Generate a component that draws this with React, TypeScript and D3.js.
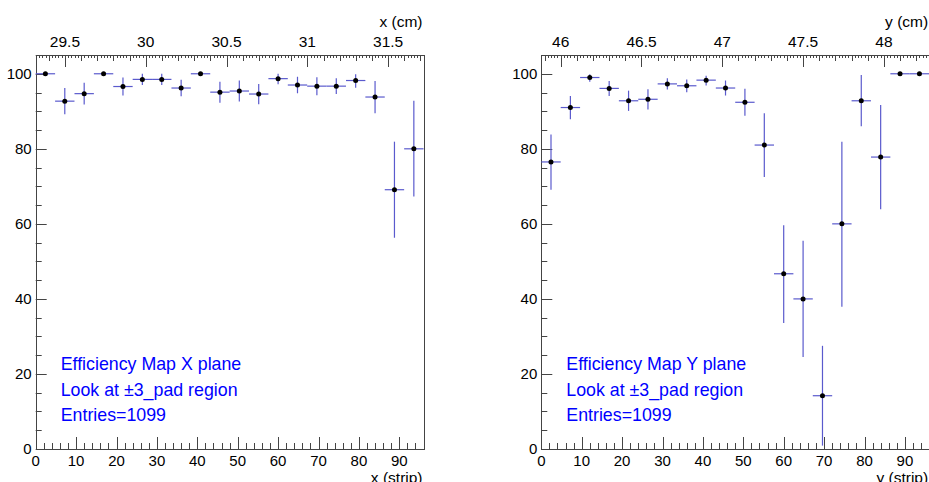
import React from "react";
import * as d3 from "d3";

// bins in strip units (20 bins of 4.8 strips, 0..96)
const stripBinCenters = [2.4, 7.2, 12.0, 16.8, 21.6, 26.4, 31.2, 36.0, 40.8, 45.6, 50.4, 55.2, 60.0, 64.8, 69.6, 74.4, 79.2, 84.0, 88.8, 93.6];
const binHalfWidth = 2.4;

const xPlaneEff = [100, 92.7, 94.7, 100, 96.6, 98.5, 98.5, 96.2, 100, 95.1, 95.4, 94.6, 98.7, 97.0, 96.7, 96.7, 98.2, 93.8, 69.1, 80.0];
const xPlaneErrLow = [0, 3.5, 2.9, 0, 2.4, 1.5, 1.5, 2.2, 0, 2.8, 2.8, 2.7, 1.5, 2.2, 2.4, 2.1, 1.9, 4.3, 12.8, 12.7];
const xPlaneErrHigh = [0, 3.5, 2.9, 0, 2.4, 1.5, 1.5, 2.2, 0, 2.8, 2.8, 2.7, 1.3, 2.2, 2.4, 2.1, 1.7, 4.3, 12.8, 12.8];

const yPlaneEff = [76.5, 91.0, 99.0, 96.1, 92.8, 93.2, 97.3, 96.8, 98.3, 96.2, 92.4, 81.0, 46.7, 40.0, 14.2, 60.0, 92.8, 77.8, 100, 100];
const yPlaneErrLow = [7.4, 3.1, 1.1, 2.0, 2.7, 2.7, 1.5, 1.7, 1.4, 2.0, 3.6, 8.5, 13.1, 15.5, 13.3, 22.1, 6.8, 13.9, 0, 0];
const yPlaneErrHigh = [7.3, 3.1, 0.9, 2.0, 2.7, 2.7, 1.5, 1.7, 1.2, 2.0, 3.6, 8.5, 12.9, 15.5, 13.3, 21.9, 6.9, 13.9, 0, 0];

const xCmDomain = [29.319, 31.719];
const yCmDomain = [45.88, 48.28];
const xCmTicks = ["29.5", "30", "30.5", "31", "31.5"];
const yCmTicks = ["46", "46.5", "47", "47.5", "48"];
const stripTicks = [0, 10, 20, 30, 40, 50, 60, 70, 80, 90];
const effTicks = [0, 20, 40, 60, 80, 100];

const FONT = "'Liberation Sans', Arial, Helvetica, sans-serif";
const AXIS = "#444";
const BAR = "#5a5acd";

type PanelProps = {
  left: number;
  eff: number[];
  errLo: number[];
  errHi: number[];
  cmDomain: number[];
  cmTicks: string[];
  axisName: string;
  plane: string;
};

function Panel({ left, eff, errLo, errHi, cmDomain, cmTicks, axisName, plane }: PanelProps) {
  const top = 55;
  const bottom = 449;
  const right = left + 96 * 4.04;

  const x = d3.scaleLinear().domain([0, 96]).range([left, right]);
  const xcm = d3.scaleLinear().domain(cmDomain).range([left, right]);
  const y = d3.scaleLinear().domain([0, 105]).range([bottom, top]);

  const px = (v: number) => Math.round(v) + 0.5;

  const minorStrip = d3.range(0, 96.01, 2).filter((v) => v % 10 !== 0);
  const minorEff = d3.range(0, 105.01, 5).filter((v) => v % 20 !== 0);
  const cmSmall = d3.range(Math.ceil(cmDomain[0] * 50), Math.floor(cmDomain[1] * 50) + 1).map((v) => v / 50);

  return (
    <g fontFamily={FONT}>
      {/* frame */}
      <rect x={px(left)} y={px(top)} width={Math.round(right) - Math.round(left)} height={Math.round(bottom) - Math.round(top)} fill="none" stroke={AXIS} strokeWidth={1} />

      {/* bottom strip axis */}
      {stripTicks.map((t) => (
        <g key={"sb" + t}>
          <line x1={px(x(t))} x2={px(x(t))} y1={bottom} y2={bottom - 12} stroke={AXIS} />
          <text x={x(t)} y={466} textAnchor="middle" fontSize={15} fill="#000">{t}</text>
        </g>
      ))}
      {minorStrip.map((t) => (
        <line key={"sm" + t} x1={px(x(t))} x2={px(x(t))} y1={bottom} y2={bottom - 6} stroke={AXIS} />
      ))}
      <text x={right - 1} y={483} textAnchor="end" fontSize={15.5} fill="#000">{axisName} (strip)</text>

      {/* top cm axis */}
      {cmSmall.map((v) => {
        const k = Math.round(v * 50);
        const len = k % 25 === 0 ? 12 : k % 5 === 0 ? 6 : 3;
        return <line key={"cm" + k} x1={px(xcm(v))} x2={px(xcm(v))} y1={top} y2={top + len} stroke={AXIS} />;
      })}
      {cmTicks.map((t) => (
        <text key={"cl" + t} x={xcm(+t)} y={46.5} textAnchor="middle" fontSize={15.5} fill="#000">{t}</text>
      ))}
      <text x={right - 1} y={26.5} textAnchor="end" fontSize={15.5} fill="#000">{axisName} (cm)</text>

      {/* left efficiency axis */}
      {effTicks.map((t) => (
        <g key={"ey" + t}>
          <line x1={left} x2={left + 11} y1={px(y(t))} y2={px(y(t))} stroke={AXIS} />
          <text x={left - 4} y={y(t)} dy="0.36em" textAnchor="end" fontSize={15} fill="#000">{t}</text>
        </g>
      ))}
      {minorEff.map((t) => (
        <line key={"em" + t} x1={left} x2={left + 6} y1={px(y(t))} y2={px(y(t))} stroke={AXIS} />
      ))}

      {/* error bars and points */}
      {stripBinCenters.map((c, i) => (
        <g key={"p" + i}>
          <line x1={x(c - binHalfWidth)} x2={x(c + binHalfWidth)} y1={y(eff[i])} y2={y(eff[i])} stroke={BAR} strokeWidth={1.2} />
          {(errLo[i] > 0 || errHi[i] > 0) && (
            <line x1={x(c)} x2={x(c)} y1={y(eff[i] + errHi[i])} y2={y(eff[i] - errLo[i])} stroke={BAR} strokeWidth={1.2} />
          )}
          <circle cx={x(c)} cy={y(eff[i])} r={2.5} fill="#000" />
        </g>
      ))}

      {/* annotation */}
      <g fill="#0000ff" fontSize={17.8}>
        <text x={left + 25} y={370}>Efficiency Map {plane} plane</text>
        <text x={left + 25} y={395.5}>Look at ±3_pad region</text>
        <text x={left + 25} y={421}>Entries=1099</text>
      </g>
    </g>
  );
}

export default function App() {
  return (
    <svg width={929} height={482} style={{ position: "absolute", left: 0, top: 0, background: "#fff" }}>
      <rect width={929} height={482} fill="#fff" />
      <Panel left={35.7} eff={xPlaneEff} errLo={xPlaneErrLow} errHi={xPlaneErrHigh} cmDomain={xCmDomain} cmTicks={xCmTicks} axisName="x" plane="X" />
      <Panel left={541.3} eff={yPlaneEff} errLo={yPlaneErrLow} errHi={yPlaneErrHigh} cmDomain={yCmDomain} cmTicks={yCmTicks} axisName="y" plane="Y" />
    </svg>
  );
}
